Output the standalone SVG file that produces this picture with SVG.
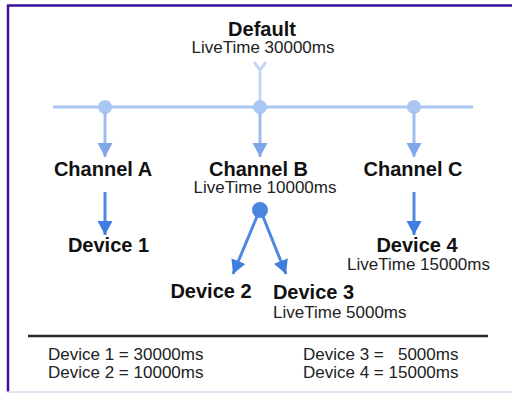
<svg xmlns="http://www.w3.org/2000/svg" width="512" height="394" viewBox="0 0 512 394">
<style>
text{font-family:"Liberation Sans",Arial,sans-serif;fill:#111}
.b{font-weight:bold;font-size:20px;text-anchor:middle}
.s{font-size:17px;fill:#222}
.c{text-anchor:middle}
.bus{stroke:#aac6f2;stroke-width:3;fill:none}
.la{stroke:#9dbcf0;stroke-width:3;fill:none;marker-end:url(#hl)}
.da{stroke:#4f88e2;stroke-width:3;fill:none;marker-end:url(#hd)}
</style>
<defs>
<marker id="hl" markerUnits="userSpaceOnUse" markerWidth="16" markerHeight="16" refX="14" refY="7.5" orient="auto" viewBox="0 0 16 16">
<path d="M0,0 L14,7.5 L0,15 z" fill="#7ea6e8"/>
</marker>
<marker id="hd" markerUnits="userSpaceOnUse" markerWidth="16" markerHeight="16" refX="14" refY="7.5" orient="auto" viewBox="0 0 16 16">
<path d="M0,0 L14,7.5 L0,15 z" fill="#3f7ee0"/>
</marker>
</defs>
<rect width="512" height="394" fill="#fff"/>
<g id="frame">
<line x1="7" y1="5.5" x2="512" y2="5.5" stroke="#3d109e" stroke-width="2.5"/>
<line x1="8" y1="5" x2="8" y2="392" stroke="#3d109e" stroke-width="2.5"/>
<line x1="7" y1="392" x2="512" y2="392" stroke="#d9d5ee" stroke-width="1.5"/>
</g>
<g id="connectors">
<line class="bus" x1="53" y1="107" x2="473" y2="107"/>
<path d="M254,62 L260,70 L266,62 M260,70 L260,104" stroke="#c3d6f6" stroke-width="3" fill="none"/>
<circle cx="105" cy="107" r="7" fill="#aac6f2"/>
<circle cx="260" cy="107" r="7" fill="#aac6f2"/>
<circle cx="414" cy="107" r="7" fill="#aac6f2"/>
<line class="la" x1="105" y1="112" x2="105" y2="157"/>
<line class="la" x1="260" y1="112" x2="260" y2="157"/>
<line class="la" x1="414" y1="112" x2="414" y2="157"/>
<line class="da" x1="105" y1="192" x2="105" y2="235"/>
<line class="da" x1="414" y1="192" x2="414" y2="235"/>
<circle cx="260" cy="210" r="8" fill="#4a85e0"/>
<line class="da" x1="258" y1="214" x2="233" y2="274"/>
<line class="da" x1="262" y1="214" x2="286" y2="274"/>
</g>
<g id="default">
<text class="b" x="262" y="36">Default</text>
<text class="s c" x="263" y="53">LiveTime 30000ms</text>
</g>
<g id="channelA"><text class="b" x="103" y="176">Channel A</text></g>
<g id="channelB">
<text class="b" x="258.5" y="176">Channel B</text>
<text class="s c" x="265" y="193">LiveTime 10000ms</text>
</g>
<g id="channelC"><text class="b" x="413" y="176">Channel C</text></g>
<g id="device1"><text class="b" x="108.5" y="252">Device 1</text></g>
<g id="device4">
<text class="b" x="417" y="252">Device 4</text>
<text class="s c" x="418.5" y="270">LiveTime 15000ms</text>
</g>
<g id="device2"><text class="b" x="211" y="298">Device 2</text></g>
<g id="device3">
<text class="b" x="313.5" y="299">Device 3</text>
<text class="s" x="273" y="318">LiveTime 5000ms</text>
</g>
<g id="summary">
<line x1="28" y1="336" x2="488" y2="336" stroke="#2a2a2a" stroke-width="2.5"/>
<text class="s" x="48" y="360">Device 1 = 30000ms</text>
<text class="s" x="48" y="378">Device 2 = 10000ms</text>
<text class="s" x="303" y="360" xml:space="preserve">Device 3 =   5000ms</text>
<text class="s" x="303" y="378">Device 4 = 15000ms</text>
</g>
</svg>
